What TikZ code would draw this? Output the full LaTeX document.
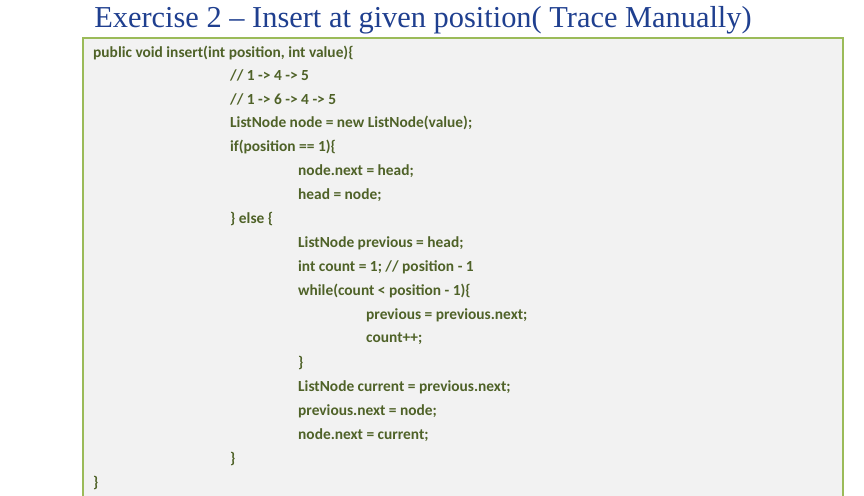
\documentclass[tikz,border=0pt]{standalone}
\usepackage{fontspec}
\setmainfont{Liberation Serif}
\newfontfamily\codefont{Carlito}
\definecolor{codegreen}{HTML}{4F6228}
\definecolor{titleblue}{HTML}{1F3F8F}
\definecolor{boxborder}{HTML}{9BBB59}
\definecolor{boxfill}{HTML}{F2F2F2}
\begin{document}
\begin{tikzpicture}[x=1pt,y=-1pt,
  code/.style={anchor=west,inner sep=0pt,text=codegreen,font=\codefont\bfseries\fontsize{15.4}{17}\selectfont}]
\useasboundingbox (0,0) rectangle (864,495);
\node[anchor=center,text=titleblue,font=\fontsize{30.4}{32}\selectfont] (title) at (423,20) {Exercise 2 -- Insert at given position( Trace Manually)};
\draw[draw=boxborder,fill=boxfill,line width=1.2pt] (83,38) rectangle (843,498);
\node[code] (l1) at (93,53) {public void insert(int position, int value)\{};
\node[code] (l2) at (230,75) {// 1 -> 4 -> 5};
\node[code] (l3) at (230,99) {// 1 -> 6 -> 4 -> 5};
\node[code] (l4) at (230,123) {ListNode node = new ListNode(value);};
\node[code] (l5) at (230,147) {if(position == 1)\{};
\node[code] (l6) at (298,171) {node.next = head;};
\node[code] (l7) at (298,195) {head = node;};
\node[code] (l8) at (230,219) {\} else \{};
\node[code] (l9) at (298,243) {ListNode previous = head;};
\node[code] (l10) at (298,267) {int count = 1; // position - 1};
\node[code] (l11) at (298,291) {while(count < position - 1)\{};
\node[code] (l12) at (366,315) {previous = previous.next;};
\node[code] (l13) at (366,339) {count++;};
\node[code] (l14) at (298,363) {\}};
\node[code] (l15) at (298,387) {ListNode current = previous.next;};
\node[code] (l16) at (298,411) {previous.next = node;};
\node[code] (l17) at (298,435) {node.next = current;};
\node[code] (l18) at (230,459) {\}};
\node[code] (l19) at (93,483) {\}};
\end{tikzpicture}
\end{document}
